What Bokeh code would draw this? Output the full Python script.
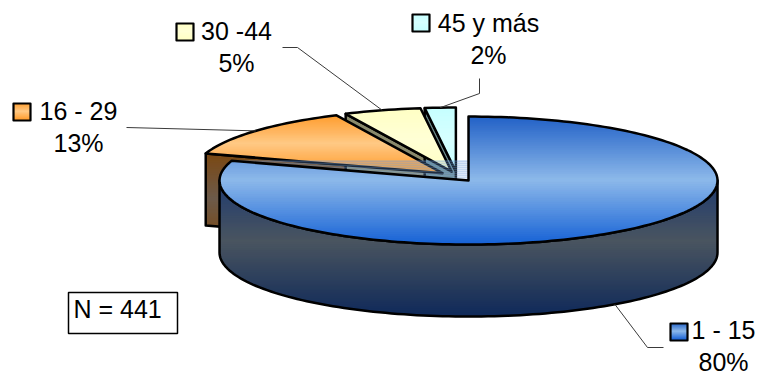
import math
from bokeh.plotting import figure
from bokeh.models import Range1d
from bokeh.embed import file_html
from bokeh.resources import INLINE
from bokeh.core.properties import value

# ---- data -------------------------------------------------------------
categories = ["1 - 15", "16 - 29", "30 -44", "45 y más"]
shares = [80, 13, 5, 2]
pct_labels = ["80%", "13%", "5%", "2%"]
n_label = "N = 441"

# ---- styling ----------------------------------------------------------
top_stops = [
    [(0.0, "#2160c6"), (0.5, "#8db9ea"), (1.0, "#1863d6")],
    [(0.0, "#ff9c2c"), (0.5, "#ffc985"), (1.0, "#ff9c2c")],
    [(0.0, "#ffffc4"), (0.5, "#ffffd6"), (1.0, "#ffffc4")],
    [(0.0, "#c6ffff"), (0.5, "#d6ffff"), (1.0, "#c6ffff")],
]
side_stops = [
    [(0.0, "#1f3b70"), (0.45, "#4a5560"), (1.0, "#102a5a")],
    [(0.0, "#7c4812"), (0.5, "#6d5b4b"), (1.0, "#7c4812")],
    [(0.0, "#8a8a6c"), (1.0, "#8a8a6c")],
    [(0.0, "#6c8a8a"), (1.0, "#6c8a8a")],
]
FONT = value("Liberation Sans")
FSIZE = "25px"
TEXT_SHIFT = -9.5          # baseline correction for the svg text renderer
EDGE = 2.5                 # outline width of the pie faces

W, H = 759, 375
CX, CY = 456.6, 176.0      # pie centre on the page
A, B = 249.0, 64.0         # ellipse semi-axes of the tilted pie
DEPTH = 72.0               # thickness of the pie
EXPLODE = 0.078            # slice separation (fraction of radius)

p = figure(width=W, height=H, x_range=Range1d(0, W), y_range=Range1d(H, 0),
           output_backend="svg", toolbar_location=None, min_border=0,
           x_axis_type=None, y_axis_type=None)
p.grid.visible = False
p.outline_line_color = None
p.background_fill_color = "white"
p.border_fill_color = "white"


def hex2rgb(h):
    h = h.lstrip("#")
    return [int(h[i:i + 2], 16) for i in (0, 2, 4)]


def grad_color(stops, t):
    t = min(max(t, 0.0), 1.0)
    for (t0, c0), (t1, c1) in zip(stops[:-1], stops[1:]):
        if t <= t1:
            f = 0 if t1 == t0 else (t - t0) / (t1 - t0)
            a, b = hex2rgb(c0), hex2rgb(c1)
            return "#%02x%02x%02x" % tuple(round(a[k] + f * (b[k] - a[k])) for k in range(3))
    return stops[-1][1]


def clip(pts, yv, keep_ge):
    out = []
    n = len(pts)
    for i in range(n):
        P, Q = pts[i], pts[(i + 1) % n]
        inP = P[1] >= yv if keep_ge else P[1] <= yv
        inQ = Q[1] >= yv if keep_ge else Q[1] <= yv
        if inP:
            out.append(P)
        if inP != inQ:
            t = (yv - P[1]) / (Q[1] - P[1])
            out.append((P[0] + t * (Q[0] - P[0]), yv))
    return out


def shaded(pts, stops, outline=True, lw=EDGE, step=2.0):
    """Fill a polygon with a vertical gradient built from thin bands."""
    ys = [q[1] for q in pts]
    y0, y1 = min(ys), max(ys)
    n = max(1, int(math.ceil((y1 - y0) / step)))
    bx, by, cols = [], [], []
    for k in range(n):
        a = y0 + k * (y1 - y0) / n
        b = y0 + (k + 1) * (y1 - y0) / n
        part = clip(clip(pts, a - 0.6, True), b + 0.6, False)
        if len(part) >= 3:
            bx.append([q[0] for q in part])
            by.append([q[1] for q in part])
            cols.append(grad_color(stops, ((a + b) / 2 - y0) / max(y1 - y0, 1e-9)))
    if bx:
        p.patches(bx, by, fill_color=cols, line_color=cols, line_width=0.4)
    if outline:
        p.patch([q[0] for q in pts], [q[1] for q in pts], fill_color=None,
                line_color="black", line_width=lw, line_join="round")


def rim(c, deg, dz=0.0):
    th = math.radians(deg)
    return (c[0] + A * math.sin(th), c[1] - B * math.cos(th) + dz)


def arc(c, d0, d1, dz=0.0, n=None):
    n = n or max(4, int(abs(d1 - d0) / 1.5))
    return [rim(c, d0 + (d1 - d0) * i / n, dz) for i in range(n + 1)]


# slice angles (clockwise from 12 o'clock) and exploded centres
total = float(sum(shares))
starts, ends, centres, mids = [], [], [], []
acc = 0.0
for s in shares:
    d0 = acc * 360.0 / total
    acc += s
    d1 = acc * 360.0 / total
    m = math.radians((d0 + d1) / 2)
    starts.append(d0)
    ends.append(d1)
    mids.append((d0 + d1) / 2)
    centres.append((CX + EXPLODE * A * math.sin(m), CY - EXPLODE * B * math.cos(m)))

# back slices: visible radial faces first, then their tops
for i in range(1, len(shares)):
    c = centres[i]
    face = [c, rim(c, starts[i]), rim(c, starts[i], DEPTH), (c[0], c[1] + DEPTH)]
    shaded(face, side_stops[i])
for i in range(1, len(shares)):
    c = centres[i]
    shaded([c] + arc(c, starts[i], ends[i]), top_stops[i])

# front slice: curved side, then top
c = centres[0]
side = arc(c, 90, 270) + arc(c, 270, 90, DEPTH)
shaded(side, side_stops[0])
shaded([c] + arc(c, starts[0], ends[0]), top_stops[0])

# leader lines from labels to slices
elbows = {
    0: [(663, 347), (647, 347)],
    1: [(126, 127)],
    2: [(282, 47), (297, 47)],
    3: [(479, 78), (479, 93)],
}
for i in range(len(shares)):
    end = rim(centres[i], mids[i], DEPTH if i == 0 else 0.0)
    pts = elbows[i] + [end]
    p.line([q[0] for q in pts], [q[1] for q in pts], line_color="#3a3a3a", line_width=1)

# data labels: legend key, category and percentage
label_cx = [723, 78, 236, 488]
label_base = [339, 120, 40, 32]
keys = [(670, 323), (13, 103), (176, 23), (412, 14)]
KEY = 17
for i in range(len(shares)):
    kx, ky = keys[i]
    sq = [(kx, ky), (kx + KEY, ky), (kx + KEY, ky + KEY), (kx, ky + KEY)]
    shaded(sq, top_stops[i], lw=2.2, step=1.0)
p.text(x=label_cx, y=[b + TEXT_SHIFT for b in label_base], text=categories,
       text_align="center", text_baseline="alphabetic", text_font=FONT,
       text_font_size=FSIZE, text_color="black")
p.text(x=label_cx, y=[b + 31.5 + TEXT_SHIFT for b in label_base], text=pct_labels,
       text_align="center", text_baseline="alphabetic", text_font=FONT,
       text_font_size=FSIZE, text_color="black")

# sample size box
p.quad(left=[68], right=[177], top=[292], bottom=[333], fill_color="white",
       line_color="black", line_width=1.5)
p.text(x=[73], y=[318 + TEXT_SHIFT], text=[n_label], text_align="left",
       text_baseline="alphabetic", text_font=FONT, text_font_size=FSIZE,
       text_color="black")

open("out.html", "w").write(file_html(p, INLINE))
